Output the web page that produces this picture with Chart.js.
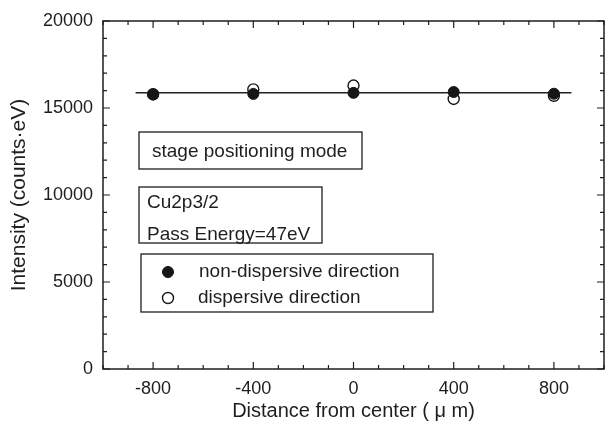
<!DOCTYPE html>
<html>
<head>
<meta charset="utf-8">
<script src="https://cdn.jsdelivr.net/npm/chart.js@4.4.1/dist/chart.umd.min.js"></script>
<style>
  html, body { margin: 0; padding: 0; background: #fff; }
  #wrap { width: 613px; height: 425px; }
</style>
</head>
<body>
<div id="wrap"><canvas id="chart" width="613" height="425"></canvas></div>
<script>
// Intensity vs. distance from center, stage positioning mode (Cu2p3/2).

const positions = [-800, -400, 0, 400, 800];
const nonDispersive = [15800, 15810, 15870, 15920, 15820];
const dispersive = [15780, 16070, 16290, 15520, 15700];
const fitX = [-870, 870];
const fitY = [15870, 15870];

const xTickLabels = [-800, -400, 0, 400, 800];
const yTickLabels = [0, 5000, 10000, 15000, 20000];

const seriesNames = ["non-dispersive direction", "dispersive direction"];
const noteLines = [["stage positioning mode"], ["Cu2p3/2", "Pass Energy=47eV"]];

const FONT = "'Liberation Sans', Arial, sans-serif";
const INK = "#1e1e1e";

// --- frame, inward ticks, note boxes and legend box ---
const decorations = {
  id: "decorations",
  afterDraw(chart) {
    const { ctx, chartArea: a, scales } = chart;
    const L = a.left, T = a.top;
    ctx.save();
    ctx.strokeStyle = INK;
    ctx.fillStyle = INK;

    // frame
    ctx.lineWidth = 1.5;
    ctx.strokeRect(a.left, a.top, a.right - a.left, a.bottom - a.top);

    // ticks, all four sides, pointing in
    ctx.lineWidth = 1.2;
    ctx.beginPath();
    for (const t of scales.x.ticks) {
      const px = scales.x.getPixelForValue(t.value);
      const len = xTickLabels.includes(t.value) ? 7 : 4;
      ctx.moveTo(px, a.bottom); ctx.lineTo(px, a.bottom - len);
      ctx.moveTo(px, a.top); ctx.lineTo(px, a.top + len);
    }
    for (const t of scales.y.ticks) {
      const py = scales.y.getPixelForValue(t.value);
      const len = yTickLabels.includes(t.value) ? 7 : 4;
      ctx.moveTo(a.left, py); ctx.lineTo(a.left + len, py);
      ctx.moveTo(a.right, py); ctx.lineTo(a.right - len, py);
    }
    ctx.stroke();

    // note boxes
    ctx.font = "19px " + FONT;
    ctx.textBaseline = "middle";
    ctx.textAlign = "left";
    ctx.lineWidth = 1.3;
    ctx.strokeRect(L + 36, T + 111, 223, 37);
    ctx.fillText(noteLines[0][0], L + 49, T + 131);

    ctx.strokeRect(L + 36, T + 166, 183, 56);
    ctx.fillText(noteLines[1][0], L + 44, T + 182);
    ctx.fillText(noteLines[1][1], L + 44, T + 214);

    // legend box
    ctx.strokeRect(L + 38, T + 233, 292, 58);
    const ds = chart.data.datasets;
    [0, 1].forEach((i) => {
      const y = T + 251 + i * 26;
      ctx.beginPath();
      ctx.arc(L + 65, y, 5.5, 0, Math.PI * 2);
      ctx.fillStyle = ds[i].pointBackgroundColor;
      ctx.fill();
      ctx.lineWidth = ds[i].pointBorderWidth;
      ctx.strokeStyle = ds[i].pointBorderColor;
      ctx.stroke();
      ctx.fillStyle = INK;
      ctx.fillText(seriesNames[i], L + 96 - i, y);
    });
    ctx.restore();
  },
};

new Chart(document.getElementById("chart"), {
  type: "scatter",
  data: {
    datasets: [
      {
        label: seriesNames[0],
        data: positions.map((x, i) => ({ x, y: nonDispersive[i] })),
        pointRadius: 5.5,
        pointBackgroundColor: "#161616",
        pointBorderColor: "#161616",
        pointBorderWidth: 1,
        order: 1,
      },
      {
        label: seriesNames[1],
        data: positions.map((x, i) => ({ x, y: dispersive[i] })),
        pointRadius: 5.5,
        pointBackgroundColor: "#ffffff",
        pointBorderColor: "#161616",
        pointBorderWidth: 1.4,
        order: 2,
      },
      {
        label: "average",
        type: "line",
        data: fitX.map((x, i) => ({ x, y: fitY[i] })),
        borderColor: "#222",
        borderWidth: 1.5,
        pointRadius: 0,
        order: 3,
      },
    ],
  },
  options: {
    responsive: false,
    animation: false,
    devicePixelRatio: 1,
    layout: { padding: { top: 21, right: 3, left: 0, bottom: 0 } },
    plugins: { legend: { display: false }, tooltip: { enabled: false } },
    scales: {
      x: {
        type: "linear",
        min: -1000,
        max: 1000,
        afterFit: (s) => { s.height = 56; },
        grid: { display: false, drawTicks: false },
        border: { display: false },
        ticks: {
          stepSize: 100,
          autoSkip: false,
          maxRotation: 0,
          padding: 9,
          color: INK,
          font: { family: FONT, size: 18 },
          callback: (v) => (xTickLabels.includes(v) ? String(v) : ""),
        },
        title: {
          display: true,
          text: "Distance from center ( μ m)",
          color: INK,
          font: { family: FONT, size: 20 },
          padding: { top: 0, bottom: 2 },
        },
      },
      y: {
        type: "linear",
        min: 0,
        max: 20000,
        afterFit: (s) => { s.width = 103; },
        grid: { display: false, drawTicks: false },
        border: { display: false },
        ticks: {
          stepSize: 1000,
          autoSkip: false,
          padding: 10,
          color: INK,
          font: { family: FONT, size: 18 },
          callback: (v) => (yTickLabels.includes(v) ? String(v) : ""),
        },
        title: {
          display: true,
          text: "Intensity (counts·eV)",
          color: INK,
          font: { family: FONT, size: 21 },
          padding: { top: 7, bottom: 0 },
        },
      },
    },
  },
  plugins: [decorations],
});
</script>
</body>
</html>
